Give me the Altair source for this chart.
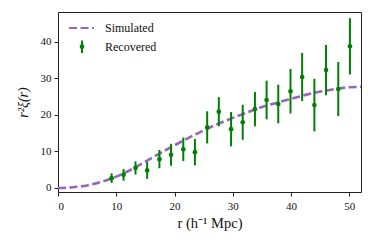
import altair as alt
import pandas as pd

# Simulated curve r^2 xi(r)
sim_r = [0, 2.5, 5, 7.5, 10, 12.5, 15, 17.5, 20, 22.5, 25, 27.5, 30, 32.5, 35, 37.5, 40, 42.5, 45, 47.5, 50, 52]
sim_v = [0, 0.2, 0.7, 1.7, 3.1, 5.0, 7.2, 9.5, 11.7, 13.8, 15.8, 17.6, 19.2, 20.7, 22.2, 23.3, 24.4, 25.5, 26.4, 27.1, 27.6, 27.7]

# Recovered points with error bars
rec_r = [9.2, 11.25, 13.3, 15.3, 17.4, 19.4, 21.5, 23.5, 25.6, 27.6, 29.7, 31.7, 33.8, 35.8, 37.8, 39.9, 41.9, 44.0, 46.0, 48.1, 50.1]
rec_v = [2.7, 3.6, 5.5, 4.8, 7.9, 9.1, 10.6, 9.8, 16.6, 20.9, 16.1, 18.0, 21.6, 24.1, 23.0, 26.5, 30.4, 22.7, 32.3, 27.1, 38.8]
rec_e = [1.3, 1.6, 1.8, 2.3, 2.5, 3.0, 3.2, 3.6, 4.4, 4.0, 4.7, 4.8, 4.7, 5.3, 5.3, 6.1, 6.6, 7.2, 6.9, 7.4, 7.7]

x_ticks = [0, 10, 20, 30, 40, 50]
y_ticks = [0, 10, 20, 30, 40]

FONT = "Liberation Serif"
PURPLE = "#9467bd"
GREEN = "#008000"

sim = pd.DataFrame({"r": sim_r, "v": sim_v})
rec = pd.DataFrame({"r": rec_r, "v": rec_v, "e": rec_e})
rec["lo"] = rec["v"] - rec["e"]
rec["hi"] = rec["v"] + rec["e"]

xscale = alt.Scale(domain=[0, 52], nice=False, zero=False)
yscale = alt.Scale(domain=[-1.1, 48.2], nice=False, zero=False)

xaxis = alt.Axis(values=x_ticks, title="r (h⁻¹ Mpc)", grid=False, domain=False,
                 tickSize=4, tickColor="#222", labelPadding=4, labelFontSize=11,
                 titleFontSize=14.5, titleFontWeight="normal", titlePadding=5,
                 labelFont=FONT, titleFont=FONT, labelColor="#111", titleColor="#111")
yaxis = alt.Axis(values=y_ticks, title="r²ξ(r)", grid=False, domain=False,
                 tickSize=4, tickColor="#222", labelPadding=3, labelFontSize=11,
                 titleFontSize=14, titleFontWeight="normal", titleFontStyle="italic",
                 titlePadding=10, labelFont=FONT, titleFont=FONT, labelColor="#111",
                 titleColor="#111")

line = alt.Chart(sim).mark_line(color=PURPLE, strokeWidth=2.6, strokeDash=[8, 3.5],
                                interpolate="monotone", clip=True).encode(
    x=alt.X("r:Q", scale=xscale, axis=xaxis),
    y=alt.Y("v:Q", scale=yscale, axis=yaxis),
)

bars = alt.Chart(rec).mark_rule(color=GREEN, strokeWidth=2).encode(
    x="r:Q", y="lo:Q", y2="hi:Q"
)
pts = alt.Chart(rec).mark_circle(color=GREEN, size=22, opacity=1).encode(
    x="r:Q", y="v:Q"
)

# legend (drawn in plot-area pixel space)
leg_line = alt.Chart(pd.DataFrame({"k": [0]})).mark_rule(
    color=PURPLE, strokeWidth=2.2, strokeDash=[8, 3.5]).encode(
    x=alt.value(11), x2=alt.value(36), y=alt.value(16))
leg_bar = alt.Chart(pd.DataFrame({"k": [0]})).mark_rule(
    color=GREEN, strokeWidth=2).encode(
    x=alt.value(24), y=alt.value(28.5), y2=alt.value(41))
leg_pt = alt.Chart(pd.DataFrame({"k": [0]})).mark_circle(
    color=GREEN, size=22, opacity=1).encode(
    x=alt.value(24), y=alt.value(34.7))
leg_txt = alt.Chart(pd.DataFrame({"t": ["Simulated", "Recovered"], "yy": [16, 35]})).mark_text(
    align="left", baseline="middle", font=FONT, fontSize=12, color="#111").encode(
    x=alt.value(47), y=alt.Y("yy:Q", scale=None), text="t:N")

chart = alt.layer(line, bars, pts, leg_line, leg_bar, leg_pt, leg_txt).properties(
    width=303, height=180,
    autosize=alt.AutoSizeParams(type="none"),
    padding={"left": 50, "top": 4, "right": 5, "bottom": 45},
).configure_view(stroke="#222", strokeWidth=1)

chart.save("out.html", embed_options={"renderer": "svg", "actions": False})
